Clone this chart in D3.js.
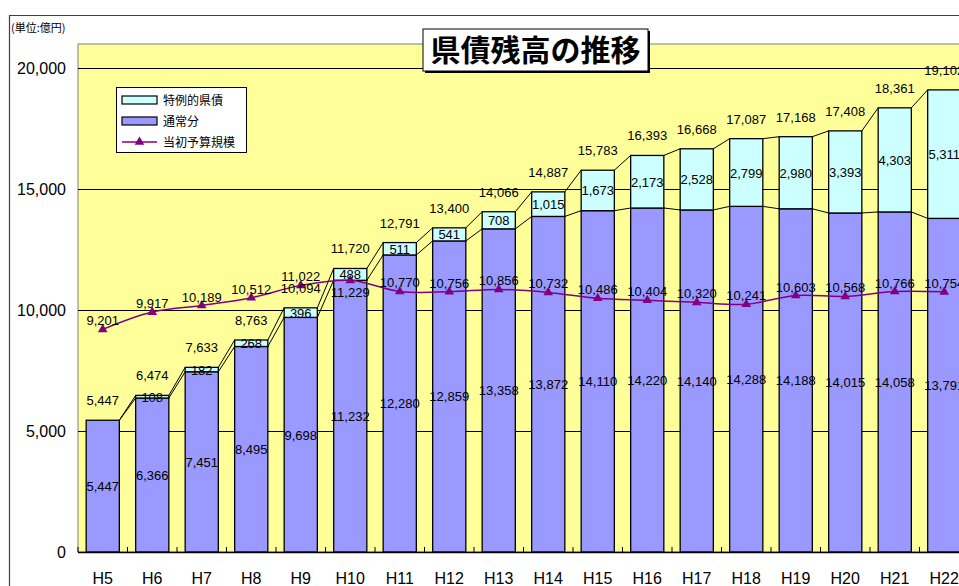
<!DOCTYPE html>
<html>
<head>
<meta charset="utf-8">
<script src="https://cdn.jsdelivr.net/npm/d3@7"></script>
<style>
  body { margin: 0; background: #fff; }
  text { font-family: "Liberation Sans", "Noto Sans CJK JP", sans-serif; }
  .jp { font-family: "Noto Sans CJK JP", sans-serif; }
</style>
</head>
<body>
<div id="chart"></div>
<script>
// data
var years = ["H5","H6","H7","H8","H9","H10","H11","H12","H13","H14","H15","H16","H17","H18","H19","H20","H21","H22"];
var regular = [5447,6366,7451,8495,9698,11232,12280,12859,13358,13872,14110,14220,14140,14288,14188,14015,14058,13791];
var special = [0,108,182,268,396,488,511,541,708,1015,1673,2173,2528,2799,2980,3393,4303,5311];
var budget = [9201,9917,10189,10512,11022,11229,10770,10756,10856,10732,10486,10404,10320,10241,10603,10568,10766,10754];
var yTicks = [0,5000,10000,15000,20000];

// budget labels that sit under the marker instead of above
var budgetLabelBelow = ["H10"];

var width = 959, height = 586;
var plot = {left: 78, top: 44, bottom: 552, right: 969};

var svg = d3.select("#chart").append("svg")
    .attr("width", width)
    .attr("height", height);

var fmt = d3.format(",");

var x = d3.scaleBand()
    .domain(years)
    .range([plot.left, plot.right])
    .paddingInner(0.33)
    .paddingOuter(0.165);

var y = d3.scaleLinear()
    .domain([0, 21000])
    .range([plot.bottom, plot.top]);

// outer frame
svg.append("path")
    .attr("d", "M9.5," + height + "V15.5H" + width)
    .attr("fill", "none")
    .attr("stroke", "#404040")
    .attr("stroke-width", 1.2);

// unit label
svg.append("text")
    .attr("class", "jp")
    .attr("x", 11)
    .attr("y", 32)
    .attr("font-size", 11)
    .text("(単位:億円)");

// plot area
svg.append("rect")
    .attr("x", plot.left)
    .attr("y", plot.top)
    .attr("width", plot.right - plot.left)
    .attr("height", plot.bottom - plot.top)
    .attr("fill", "#ffff99")
    .attr("stroke", "#808080")
    .attr("stroke-width", 1);

// gridlines
svg.append("g")
    .selectAll("line")
    .data(yTicks.slice(1))
    .join("line")
    .attr("x1", plot.left)
    .attr("x2", plot.right)
    .attr("y1", d => Math.round(y(d)) + 0.5)
    .attr("y2", d => Math.round(y(d)) + 0.5)
    .attr("stroke", "#000")
    .attr("stroke-width", 1);

// y labels
svg.append("g")
    .selectAll("text")
    .data(yTicks)
    .join("text")
    .attr("x", 66)
    .attr("y", d => y(d) + 6)
    .attr("text-anchor", "end")
    .attr("font-size", 16)
    .text(d => fmt(d));

// series lines between bars
var bw = x.bandwidth();
var lines = svg.append("g").attr("stroke", "#000").attr("stroke-width", 1);
for (var i = 0; i < years.length - 1; i++) {
    var x1 = x(years[i]) + bw, x2 = x(years[i + 1]);
    lines.append("line")
        .attr("x1", x1).attr("x2", x2)
        .attr("y1", y(regular[i])).attr("y2", y(regular[i + 1]));
    lines.append("line")
        .attr("x1", x1).attr("x2", x2)
        .attr("y1", y(regular[i] + special[i])).attr("y2", y(regular[i + 1] + special[i + 1]));
}

// bars: 通常分
svg.append("g")
    .selectAll("rect")
    .data(years)
    .join("rect")
    .attr("x", d => x(d))
    .attr("width", bw)
    .attr("y", (d, i) => y(regular[i]))
    .attr("height", (d, i) => y(0) - y(regular[i]))
    .attr("fill", "#9999ff")
    .attr("stroke", "#000")
    .attr("stroke-width", 1.3);

// bars: 特例的県債
svg.append("g")
    .selectAll("rect")
    .data(years)
    .join("rect")
    .attr("x", d => x(d))
    .attr("width", bw)
    .attr("y", (d, i) => y(regular[i] + special[i]))
    .attr("height", (d, i) => y(regular[i]) - y(regular[i] + special[i]))
    .attr("fill", "#ccffff")
    .attr("stroke", "#000")
    .attr("stroke-width", 1.3)
    .style("display", (d, i) => special[i] ? null : "none");

// x axis line and ticks
svg.append("line")
    .attr("x1", plot.left).attr("x2", plot.right)
    .attr("y1", plot.bottom + 0.5).attr("y2", plot.bottom + 0.5)
    .attr("stroke", "#000").attr("stroke-width", 1.5);
svg.append("g")
    .selectAll("line")
    .data(d3.range(years.length + 1))
    .join("line")
    .attr("x1", d => plot.left + d * x.step())
    .attr("x2", d => plot.left + d * x.step())
    .attr("y1", plot.bottom - 5)
    .attr("y2", plot.bottom)
    .attr("stroke", "#000");

svg.append("g")
    .selectAll("text")
    .data(years)
    .join("text")
    .attr("x", d => x(d) + bw / 2)
    .attr("y", 584)
    .attr("text-anchor", "middle")
    .attr("font-size", 16)
    .text(d => d);

// budget line
var line = d3.line()
    .x((d, i) => x(years[i]) + bw / 2)
    .y(d => y(d))
    .curve(d3.curveCatmullRom);
svg.append("path")
    .datum(budget)
    .attr("d", line)
    .attr("fill", "none")
    .attr("stroke", "#800080")
    .attr("stroke-width", 1.5);
var tri = d3.symbol().type(d3.symbolTriangle).size(40);
svg.append("g")
    .selectAll("path")
    .data(budget)
    .join("path")
    .attr("d", tri)
    .attr("transform", (d, i) => "translate(" + (x(years[i]) + bw / 2) + "," + y(d) + ")")
    .attr("fill", "#800080");

// value labels
var labels = svg.append("g").attr("font-size", 13).attr("text-anchor", "middle");
years.forEach(function(yr, i) {
    var cx = x(yr) + bw / 2;
    labels.append("text")
        .attr("x", cx).attr("y", y(regular[i] / 2) + 5)
        .text(fmt(regular[i]));
    if (special[i]) {
        labels.append("text")
            .attr("x", cx).attr("y", y(regular[i] + special[i] / 2) + 5)
            .text(fmt(special[i]));
    }
    labels.append("text")
        .attr("x", cx).attr("y", y(regular[i] + special[i]) - 15)
        .text(fmt(regular[i] + special[i]));
    var below = budgetLabelBelow.indexOf(yr) >= 0;
    labels.append("text")
        .attr("x", cx).attr("y", below ? y(budget[i]) + 17 : y(budget[i]) - 4)
        .text(fmt(budget[i]));
});

// title
var tg = svg.append("g");
tg.append("rect")
    .attr("x", 425).attr("y", 31).attr("width", 225).attr("height", 42)
    .attr("fill", "#000");
tg.append("rect")
    .attr("x", 423).attr("y", 29).attr("width", 225).attr("height", 42)
    .attr("fill", "#fff").attr("stroke", "#000").attr("stroke-width", 1);
tg.append("text")
    .attr("class", "jp")
    .attr("x", 535.5).attr("y", 61)
    .attr("text-anchor", "middle")
    .attr("font-size", 30)
    .attr("font-weight", "bold")
    .text("県債残高の推移");

// legend
var lg = svg.append("g");
lg.append("rect")
    .attr("x", 116.5).attr("y", 87.5).attr("width", 130).attr("height", 65)
    .attr("fill", "#fff").attr("stroke", "#000");
var legendItems = [
    {name: "特例的県債", fill: "#ccffff"},
    {name: "通常分", fill: "#9999ff"},
    {name: "当初予算規模", fill: null}
];
legendItems.forEach(function(it, i) {
    var cy = 100 + i * 21;
    if (it.fill) {
        lg.append("rect")
            .attr("x", 122).attr("y", cy - 4).attr("width", 35).attr("height", 8)
            .attr("fill", it.fill).attr("stroke", "#000").attr("stroke-width", 1.2);
    } else {
        lg.append("line")
            .attr("x1", 122).attr("x2", 157).attr("y1", cy).attr("y2", cy)
            .attr("stroke", "#800080").attr("stroke-width", 1.5);
        lg.append("path")
            .attr("d", tri)
            .attr("transform", "translate(139.5," + cy + ")")
            .attr("fill", "#800080");
    }
    lg.append("text")
        .attr("class", "jp")
        .attr("x", 163).attr("y", cy + 5)
        .attr("font-size", 12)
        .text(it.name);
});
</script>
</body>
</html>
